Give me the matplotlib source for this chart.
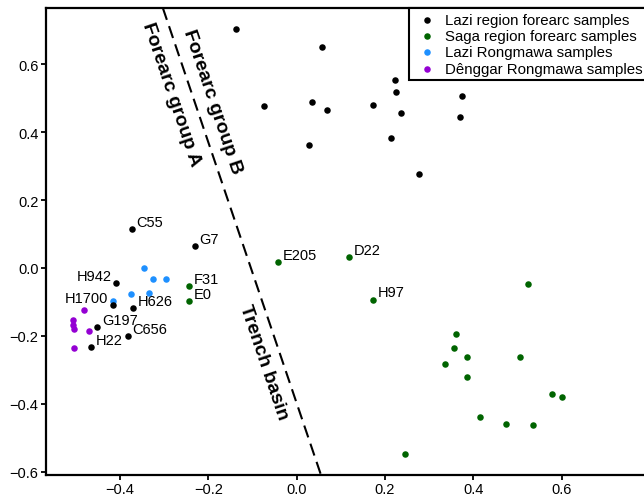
import numpy as np
import matplotlib
matplotlib.use("Agg")
import matplotlib.pyplot as plt

plt.rcParams["font.family"] = ["Liberation Sans", "DejaVu Sans"]

# Lazi region forearc samples
lazi_x = [-0.137, -0.073, 0.034, 0.028, 0.057, 0.069, 0.173, 0.223, 0.225, 0.237,
          0.213, 0.375, 0.370, 0.277, -0.373, -0.230, -0.409, -0.417, -0.371, -0.451,
          -0.382, -0.466]
lazi_y = [0.704, 0.478, 0.490, 0.362, 0.652, 0.465, 0.481, 0.554, 0.518, 0.457,
          0.384, 0.506, 0.444, 0.278, 0.116, 0.066, -0.043, -0.108, -0.119, -0.175,
          -0.201, -0.233]
lazi_labels = [""] * 14 + ["C55", "G7", "H942", "H1700", "H626", "G197", "C656", "H22"]

# Saga region forearc samples
saga_x = [-0.243, -0.243, -0.042, 0.118, 0.173, 0.524, 0.360, 0.356, 0.385, 0.336,
          0.506, 0.386, 0.579, 0.600, 0.415, 0.474, 0.536, 0.246]
saga_y = [-0.054, -0.098, 0.017, 0.031, -0.093, -0.048, -0.196, -0.237, -0.261, -0.283,
          -0.263, -0.321, -0.371, -0.381, -0.438, -0.459, -0.464, -0.549]
saga_labels = ["F31", "E0", "E205", "D22", "H97"] + [""] * 13

# Lazi Rongmawa samples
lrong_x = [-0.345, -0.325, -0.296, -0.375, -0.334, -0.415]
lrong_y = [0.000, -0.032, -0.032, -0.076, -0.073, -0.096]

# Dênggar Rongmawa samples
drong_x = [-0.482, -0.506, -0.507, -0.504, -0.471, -0.504]
drong_y = [-0.123, -0.152, -0.168, -0.181, -0.185, -0.235]

left_labels = ["H942", "H1700"]

# dashed boundary between fields
boundary_x = [-0.303, 0.055]
boundary_y = [0.766, -0.610]

fig = plt.figure(figsize=(6.44, 5.02), dpi=100)
ax = fig.add_axes([45.5 / 644, 1 - 476 / 502, 1 - 45.5 / 644, 467 / 502])

s = 22
h3 = ax.scatter(lrong_x, lrong_y, s=s, c="#1E90FF", linewidths=0, zorder=3)
h4 = ax.scatter(drong_x, drong_y, s=s, c="#9400D3", linewidths=0, zorder=3)
h1 = ax.scatter(lazi_x, lazi_y, s=s, c="black", linewidths=0, zorder=4)
h2 = ax.scatter(saga_x, saga_y, s=s, c="#006400", linewidths=0, zorder=4)

for xs, ys, labs in [(lazi_x, lazi_y, lazi_labels), (saga_x, saga_y, saga_labels)]:
    for x, y, lab in zip(xs, ys, labs):
        if not lab:
            continue
        if lab in left_labels:
            ax.annotate(lab, (x, y), xytext=(-3.3, 2.2), textcoords="offset points",
                        ha="right", va="baseline", fontsize=10.5)
        else:
            ax.annotate(lab, (x, y), xytext=(3.3, 2.2), textcoords="offset points",
                        ha="left", va="baseline", fontsize=10.5)

ax.plot(boundary_x, boundary_y, color="black", lw=1.5, ls=(0, (6, 3.2)), zorder=2)

rot = -71.3
ax.text(-0.285, 0.513, "Forearc group A", rotation=rot, rotation_mode="anchor",
        ha="center", va="center", fontsize=14, fontweight="bold")
ax.text(-0.190, 0.492, "Forearc group B", rotation=rot, rotation_mode="anchor",
        ha="center", va="center", fontsize=14, fontweight="bold")
ax.text(-0.076, -0.277, "Trench basin", rotation=rot, rotation_mode="anchor",
        ha="center", va="center", fontsize=14, fontweight="bold")

ax.set_xlim(-0.5687, 0.7863)
ax.set_ylim(-0.610, 0.766)
ax.set_xticks(np.arange(-0.4, 0.61, 0.2))
ax.set_yticks(np.arange(-0.6, 0.61, 0.2))
ax.tick_params(direction="out", length=3.6, width=1.3, labelsize=10.5, pad=1.5)
for side in ["left", "bottom", "top"]:
    ax.spines[side].set_linewidth(1.6)
ax.spines["right"].set_visible(False)

leg = ax.legend([h1, h2, h3, h4],
                ["Lazi region forearc samples", "Saga region forearc samples",
                 "Lazi Rongmawa samples", "Dênggar Rongmawa samples"],
                loc="upper left", bbox_to_anchor=(409 / 644, 1 - 9 / 502),
                bbox_transform=fig.transFigure, borderaxespad=0, fontsize=10.8,
                scatterpoints=1, handlelength=1.8, handletextpad=0.3,
                borderpad=0.3, labelspacing=0.16, fancybox=False, framealpha=1)
leg.get_frame().set_edgecolor("black")
leg.get_frame().set_linewidth(1.5)
leg.set_zorder(10)

fig.savefig("out.png", dpi=100)
